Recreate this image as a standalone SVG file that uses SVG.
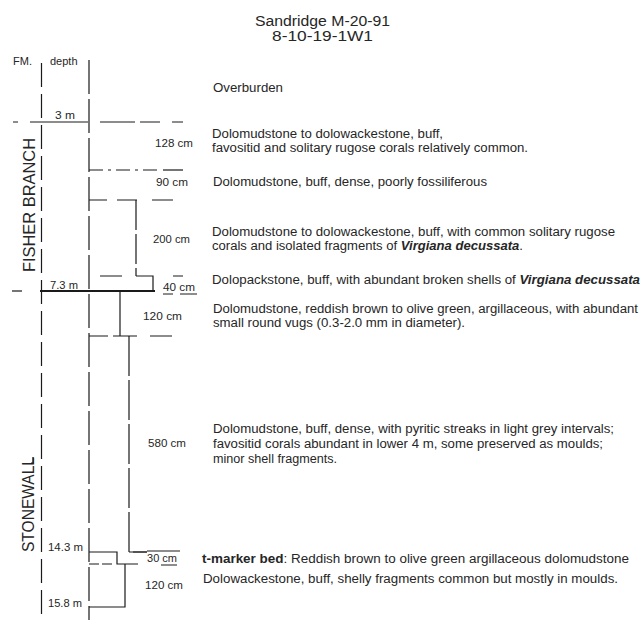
<svg xmlns="http://www.w3.org/2000/svg" width="641" height="620" viewBox="0 0 641 620">
<style>
.t{font-family:"Liberation Sans",Arial,sans-serif;fill:#262626}
.ttl{font-size:14px}
.d{font-size:12px}
.lab{font-size:10.5px}
.hd{font-size:11px}
.fm{font-size:16px}
.bi{font-weight:bold;font-style:italic}
.b{font-weight:bold}
.ln{stroke:#1a1a1a;stroke-width:1.2;fill:none}
.ax{stroke-dasharray:24 7}
.ds{stroke-dasharray:14 5 3 5}
.thick{stroke-width:2}
</style>
<rect width="641" height="620" fill="#fff"/>

<g id="title">
<text class="t ttl" x="255" y="26" textLength="135" lengthAdjust="spacingAndGlyphs">Sandridge M-20-91</text>
<text class="t ttl" x="272" y="41" textLength="101" lengthAdjust="spacingAndGlyphs">8-10-19-1W1</text>
</g>

<g id="headers">
<text class="t hd" x="13" y="65">FM.</text>
<text class="t hd" x="50" y="65">depth</text>
</g>

<g id="formations">
<text class="t fm" transform="translate(35,272) rotate(-90)" textLength="134" lengthAdjust="spacingAndGlyphs">FISHER  BRANCH</text>
<text class="t fm" transform="translate(34,552) rotate(-90)" textLength="95" lengthAdjust="spacingAndGlyphs">STONEWALL</text>
</g>

<g id="connectors">
<line class="ln ax" x1="41.5" y1="63" x2="41.5" y2="620"/>
<line class="ln ax" x1="89" y1="60" x2="89" y2="620" style="stroke-dasharray:34 5"/>
<path class="ln" d="M31 463 h2 v-6"/>
<path class="ln" d="M13 122 h5 M30 122 h58 M100 122 h35 M140 122 h20 M172 122 h11"/>
<path class="ln ds" d="M89 170 h68"/>
<path class="ln" d="M163 170 h20"/>
<path class="ln" d="M89 200 h18 M117 200 h20 M152 200 h21"/>
<path class="ln" d="M136 200 V276" style="stroke-dasharray:30 4"/>
<path class="ln" d="M100 276 h22 M136 276 h17 v15 M173 276 h10"/>
<path class="ln" d="M12 291 h10"/>
<path class="ln thick" d="M40 291 h115"/>
<path class="ln" d="M120 291 V336"/>
<path class="ln" d="M89 336 h19 M113 336 h24 M150 336 h22"/>
<path class="ln" d="M129 336 V552 h18" style="stroke-dasharray:40 4"/>
<path class="ln" d="M129 552 h18 M147 551 h33"/>
<path class="ln" d="M89 552 h28 v12 h21"/>
<path class="ln" d="M89 564 h26" style="stroke-dasharray:10 3"/>
<path class="ln" d="M125 564 V607 H89"/>
</g>

<g id="overburden">
<text class="t d" x="213" y="92" textLength="70" lengthAdjust="spacingAndGlyphs">Overburden</text>
<text class="t lab" x="55" y="119" textLength="20" lengthAdjust="spacingAndGlyphs">3 m</text>
</g>

<g id="unit-128cm">
<text class="t lab" x="155" y="147" textLength="38" lengthAdjust="spacingAndGlyphs">128 cm</text>
<text class="t d" x="212" y="138" textLength="231" lengthAdjust="spacingAndGlyphs">Dolomudstone to dolowackestone, buff,</text>
<text class="t d" x="212" y="152" textLength="316" lengthAdjust="spacingAndGlyphs">favositid and solitary rugose corals relatively common.</text>
</g>

<g id="unit-90cm">
<text class="t lab" x="156" y="186" textLength="32" lengthAdjust="spacingAndGlyphs">90 cm</text>
<text class="t d" x="213" y="186" textLength="274" lengthAdjust="spacingAndGlyphs">Dolomudstone, buff, dense, poorly fossiliferous</text>
</g>

<g id="unit-200cm">
<text class="t lab" x="153" y="243" textLength="37" lengthAdjust="spacingAndGlyphs">200 cm</text>
<text class="t d" x="212" y="236" textLength="403" lengthAdjust="spacingAndGlyphs">Dolomudstone to dolowackestone, buff, with common solitary rugose</text>
<text class="t d" x="212" y="250" textLength="311" lengthAdjust="spacingAndGlyphs">corals and isolated fragments of <tspan class="bi">Virgiana decussata</tspan>.</text>
</g>

<g id="unit-40cm">
<text class="t lab" x="163" y="291" textLength="32" lengthAdjust="spacingAndGlyphs">40 cm</text>
<path class="ln" d="M163 294 h10 M180 294 h17" style="stroke-width:1"/>
<text class="t lab" x="50" y="289" textLength="28" lengthAdjust="spacingAndGlyphs">7.3 m</text>
<text class="t d" x="212" y="284" textLength="428" lengthAdjust="spacingAndGlyphs">Dolopackstone, buff, with abundant broken shells of <tspan class="bi">Virgiana decussata</tspan></text>
</g>

<g id="unit-120cm-upper">
<text class="t lab" x="143" y="320" textLength="39" lengthAdjust="spacingAndGlyphs">120 cm</text>
<text class="t d" x="213" y="313" textLength="425" lengthAdjust="spacingAndGlyphs">Dolomudstone, reddish brown to olive green, argillaceous, with abundant</text>
<text class="t d" x="213" y="327" textLength="252" lengthAdjust="spacingAndGlyphs">small round vugs (0.3-2.0 mm in diameter).</text>
</g>

<g id="unit-580cm">
<text class="t lab" x="148" y="447" textLength="38" lengthAdjust="spacingAndGlyphs">580 cm</text>
<text class="t d" x="213" y="433" textLength="401" lengthAdjust="spacingAndGlyphs">Dolomudstone, buff, dense, with pyritic streaks in light grey intervals;</text>
<text class="t d" x="213" y="448" textLength="390" lengthAdjust="spacingAndGlyphs">favositid corals abundant in lower 4 m, some preserved as moulds;</text>
<text class="t d" x="213" y="463" textLength="124" lengthAdjust="spacingAndGlyphs">minor shell fragments.</text>
</g>

<g id="unit-30cm">
<text class="t lab" x="48" y="551" textLength="35" lengthAdjust="spacingAndGlyphs">14.3 m</text>
<text class="t lab" x="147" y="562" textLength="30" lengthAdjust="spacingAndGlyphs">30 cm</text>
<path class="ln" d="M161 565 h16" style="stroke-width:1"/>
<text class="t d" x="202" y="563" textLength="427" lengthAdjust="spacingAndGlyphs"><tspan class="b">t-marker bed</tspan>: Reddish brown to olive green argillaceous dolomudstone</text>
</g>

<g id="unit-120cm-lower">
<text class="t lab" x="145" y="589" textLength="38" lengthAdjust="spacingAndGlyphs">120 cm</text>
<text class="t lab" x="48" y="607" textLength="34" lengthAdjust="spacingAndGlyphs">15.8 m</text>
<text class="t d" x="203" y="583" textLength="415" lengthAdjust="spacingAndGlyphs">Dolowackestone, buff, shelly fragments common but mostly in moulds.</text>
</g>
</svg>
